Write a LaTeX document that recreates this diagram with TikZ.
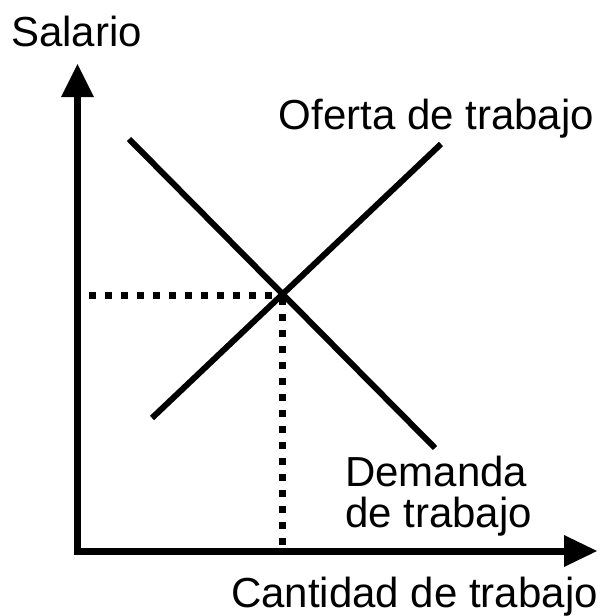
\documentclass[tikz,border=0pt]{standalone}
\usepackage{fontspec}
\setmainfont{Liberation Sans}
\begin{document}
\begin{tikzpicture}[x=1pt,y=-1pt,
 lbl/.style={anchor=base west,inner sep=0pt,font=\fontsize{42}{41}\selectfont},
 axisline/.style={line width=7pt},
 curve/.style={line width=6pt},
 head/.style={fill=black,draw=none},
 guide/.style={line width=7pt,dash pattern=on 7pt off 9pt}]
\useasboundingbox (0,0) rectangle (606,616);
% named points
\coordinate (O) at (77.5,551);
\coordinate (Ytop) at (77.5,97);
\coordinate (Xend) at (564,551);
\coordinate (E) at (282.5,295);
\coordinate (Eh) at (77.5,295);
\coordinate (Ev) at (282.5,551);
\coordinate (S1) at (152,418);
\coordinate (S2) at (441,144);
\coordinate (D1) at (129,139);
\coordinate (D2) at (435,448);
% guides
\draw[guide,dash phase=5pt] (Eh) -- (E);
\draw[guide,dash phase=13pt] (E) -- (Ev);
% axes
\draw[axisline] (77.5,554.5) -- (Ytop);
\draw[axisline] (74,551) -- (Xend);
\fill[head] (61,97) -- (94,97) -- (77.5,64) -- cycle;
\fill[head] (564,535) -- (564,567) -- (597,551) -- cycle;
% curves
\draw[curve] (S1) -- (S2);
\draw[curve] (D1) -- (D2);
% labels
\node[lbl] (ylab) at (11,46) {Salario};
\node[lbl] (slab) at (278.5,129) {Oferta de trabajo};
\node[lbl] (dlab1) at (345,486.7) {Demanda};
\node[lbl] (dlab2) at (345,527.5) {de trabajo};
\node[lbl] (xlab) at (231,607) {Cantidad de trabajo};
\end{tikzpicture}
\end{document}
